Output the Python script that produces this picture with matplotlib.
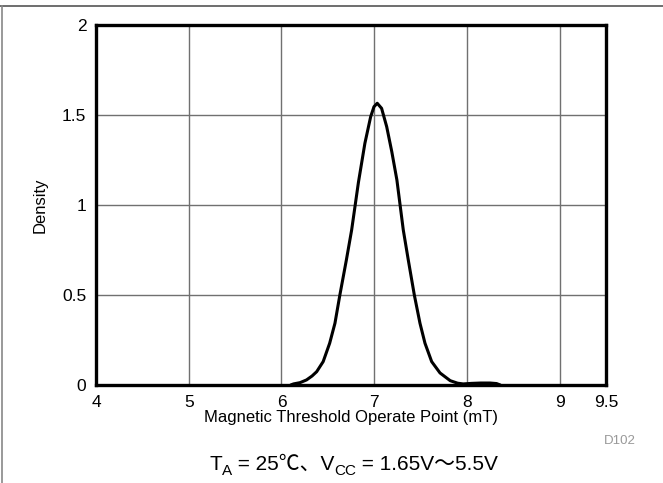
import matplotlib
matplotlib.use("Agg")
import matplotlib.pyplot as plt

plt.rcParams["font.family"] = ["Liberation Sans", "Noto Sans CJK SC", "DejaVu Sans"]

# Density curve
field_mt = [6.10, 6.13, 6.20, 6.27, 6.33, 6.38, 6.45, 6.52, 6.577, 6.63, 6.70,
            6.757, 6.83, 6.90, 6.962, 6.998, 7.033, 7.08, 7.135, 7.19, 7.245,
            7.314, 7.368, 7.433, 7.494, 7.548, 7.62, 7.71, 7.82, 7.90,
            7.96, 8.05, 8.15, 8.25, 8.32, 8.36]
density = [0.0, 0.006, 0.013, 0.028, 0.05, 0.074, 0.13, 0.232, 0.343, 0.50, 0.694,
           0.861, 1.125, 1.343, 1.49, 1.546, 1.565, 1.537, 1.435, 1.296, 1.139,
           0.861, 0.694, 0.50, 0.343, 0.232, 0.13, 0.067, 0.024, 0.01,
           0.006, 0.009, 0.011, 0.011, 0.008, 0.0]

x_ticks = [4, 5, 6, 7, 8, 9, 9.5]
x_tick_labels = ["4", "5", "6", "7", "8", "9", "9.5"]
y_ticks = [0, 0.5, 1, 1.5, 2]
y_tick_labels = ["0", "0.5", "1", "1.5", "2"]

fig = plt.figure(figsize=(6.63, 4.83), dpi=100)
ax = fig.add_axes([0.1448, 0.2029, 0.7692, 0.7454])

ax.plot(field_mt, density, color="black", linewidth=2.2, solid_capstyle="round",
        solid_joinstyle="round")

ax.set_xlim(4, 9.5)
ax.set_ylim(0, 2)
ax.set_xticks(x_ticks)
ax.set_xticklabels(x_tick_labels)
ax.set_yticks(y_ticks)
ax.set_yticklabels(y_tick_labels)
ax.tick_params(length=0, labelsize=12.5, pad=7)
ax.grid(True, color="#707070", linewidth=1.0)
for s in ax.spines.values():
    s.set_linewidth(2.4)
    s.set_color("black")

ax.set_xlabel("Magnetic Threshold Operate Point (mT)", fontsize=12, labelpad=0)
ax.set_ylabel("Density", fontsize=12, labelpad=10)

fig.text(620 / 663, 1 - 441 / 483, "D102", fontsize=9.5, color="#999999",
         ha="center", va="center")

# frame lines at top and left of the figure
fig.add_artist(plt.Line2D([0, 1], [1 - 6 / 483, 1 - 6 / 483], color="#555555", linewidth=1.2))
fig.add_artist(plt.Line2D([1.5 / 663, 1.5 / 663], [0, 1 - 6 / 483], color="#888888", linewidth=1.2))

# bottom condition text with subscripts
big = 15
small = 11
t1 = fig.text(209 / 663, 1 - 474 / 483, "T", fontsize=big, ha="left", va="bottom")
t2 = ax.annotate("A", xy=(1, 0), xycoords=t1, xytext=(0, -3), textcoords="offset points",
                 fontsize=small, ha="left", va="bottom")
t3 = ax.annotate(" = 25℃、V", xy=(1, 0), xycoords=t2, xytext=(0, 3), textcoords="offset points",
                 fontsize=big, ha="left", va="bottom")
t4 = ax.annotate("CC", xy=(1, 0), xycoords=t3, xytext=(0, -3), textcoords="offset points",
                 fontsize=small, ha="left", va="bottom")
t5 = ax.annotate(" = 1.65V～5.5V", xy=(1, 0), xycoords=t4, xytext=(0, 3), textcoords="offset points",
                 fontsize=big, ha="left", va="bottom")

fig.savefig("out.png", dpi=100)
